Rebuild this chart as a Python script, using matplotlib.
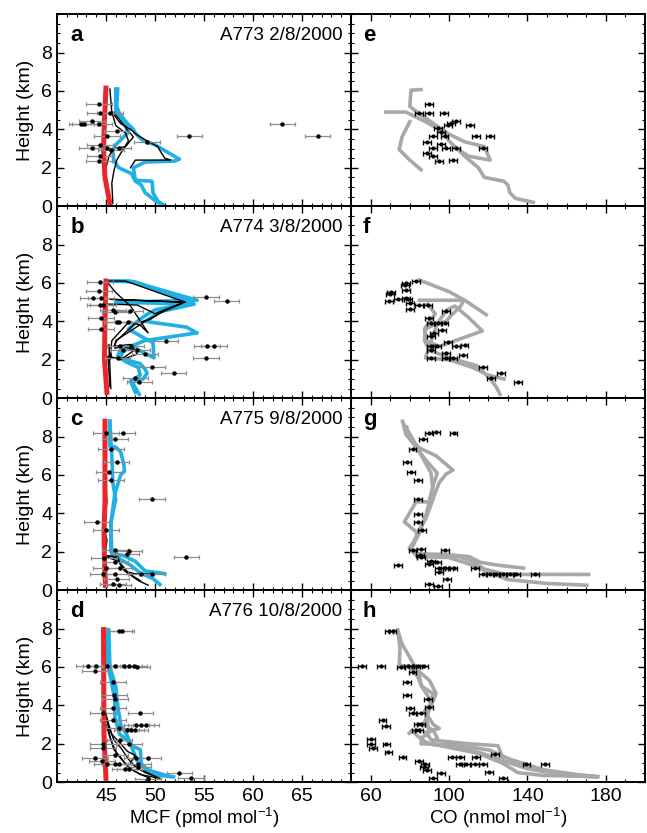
import matplotlib
matplotlib.use('Agg')
import matplotlib.pyplot as plt
from matplotlib.ticker import MultipleLocator, FixedLocator

plt.rcParams['font.family'] = ['Liberation Sans', 'DejaVu Sans']
plt.rcParams['mathtext.default'] = 'regular'

# ---- flight info ----
panel_mcf = ['a', 'b', 'c', 'd']
panel_co = ['e', 'f', 'g', 'h']
flights = ['A773 2/8/2000', 'A774 3/8/2000', 'A775 9/8/2000', 'A776 10/8/2000']

# ---- MCF (left column) ----
a_red_x = [45.0, 44.85, 44.75, 44.9, 45.4]
a_red_y = [6.15, 4.5, 3.0, 1.5, 0.15]
a_blue1_x = [46.2, 46.1, 46.4, 47.2, 47.8, 48.0, 48.8, 50.0, 51.3, 52.5, 52.0, 49.0, 47.8, 48.0, 49.7, 49.8, 50.3, 50.8]
a_blue1_y = [6.1, 5.2, 4.8, 4.3, 4.0, 3.8, 3.4, 3.2, 2.8, 2.45, 2.35, 2.3, 2.0, 1.35, 1.3, 0.7, 0.25, 0.1]
a_blue2_x = [46.0, 46.0, 47.0, 47.2, 46.0, 45.7, 45.8, 46.3, 47.6, 48.0, 48.6, 49.0, 50.0, 50.6]
a_blue2_y = [6.1, 5.0, 4.3, 3.8, 3.2, 2.9, 2.4, 2.0, 1.7, 1.3, 1.1, 0.7, 0.3, 0.1]
a_black1_x = [45.4, 45.6, 46.0, 47.0, 47.3, 46.8, 46.1, 45.8, 45.6, 45.7]
a_black1_y = [6.1, 4.9, 4.2, 3.8, 3.4, 3.0, 2.4, 1.8, 1.2, 0.15]
a_black2_x = [45.6, 46.5, 47.5, 48.2, 49.2, 50.3, 50.5, 51.0, 51.6, 48.0, 47.5]
a_black2_y = [4.9, 4.3, 4.0, 3.7, 3.4, 3.1, 2.9, 2.5, 2.4, 2.4, 2.0]
a_black3_x = [45.8, 47.0, 47.8, 47.0, 45.8, 45.3, 45.0]
a_black3_y = [4.9, 4.1, 3.6, 3.1, 3.0, 2.6, 2.0]
a_pts_x = [44.3, 44.4, 45.4, 43.6, 42.5, 42.8, 44.3, 46.1, 45.1, 53.5, 63.0, 66.6, 49.2, 44.4, 43.6, 45.1, 46.3, 44.4, 44.3, 45.5]
a_pts_y = [5.31, 4.83, 4.83, 4.43, 4.28, 4.28, 4.28, 3.9, 3.68, 3.68, 4.26, 3.68, 3.35, 3.21, 3.05, 3.05, 3.05, 2.62, 2.34, 2.9]

b_red_x = [45.0, 44.9, 44.85, 45.1]
b_red_y = [6.1, 4.0, 2.0, 0.3]
b_blue1_x = [45.2, 47.5, 54.3, 46.0, 54.0, 50.5, 49.0, 53.2, 54.3, 49.0, 48.0, 47.0, 46.6, 46.5, 47.0, 48.5, 49.0, 49.2, 48.8, 47.5, 48.0]
b_blue1_y = [6.1, 6.1, 5.1, 5.0, 4.9, 4.5, 4.0, 3.7, 3.4, 3.0, 2.8, 2.6, 2.3, 2.1, 2.0, 1.8, 1.5, 1.3, 1.0, 0.9, 0.3]
b_blue2_x = [45.5, 48.0, 53.8, 52.0, 50.0, 49.0, 48.2, 47.3, 49.0, 49.8, 49.9, 48.0, 46.5, 46.2, 47.0, 48.3, 48.5, 47.6, 48.4]
b_blue2_y = [6.1, 6.05, 5.0, 4.8, 4.6, 4.3, 4.0, 3.6, 3.1, 2.9, 2.1, 2.6, 2.5, 2.2, 1.9, 1.6, 1.2, 0.9, 0.2]
b_black1_x = [45.1, 47.0, 53.1, 45.4, 53.0, 51.0, 49.5, 48.0, 46.1, 45.8, 47.5, 48.2, 47.0, 45.6, 45.3, 45.5]
b_black1_y = [6.1, 6.1, 5.0, 5.15, 5.0, 4.6, 4.1, 3.9, 3.0, 2.7, 2.8, 2.3, 2.07, 2.1, 2.8, 0.5]
b_black2_x = [45.3, 48.2, 50.0, 52.8, 50.8, 49.0, 47.5, 46.0, 45.9, 46.8, 47.9, 46.5, 45.2, 45.4]
b_black2_y = [4.9, 4.85, 4.4, 4.95, 4.5, 4.0, 3.5, 3.0, 2.6, 2.7, 2.5, 2.0, 2.2, 0.6]
b_black3_x = [45.2, 46.0, 47.5, 49.3, 48.5, 47.4, 45.6, 45.4]
b_black3_y = [6.0, 5.5, 4.8, 3.4, 3.8, 4.0, 3.0, 2.0]
b_pts_x = [44.4, 44.3, 43.7, 44.5, 44.4, 44.7, 45.7, 45.9, 47.5, 44.5, 46.1, 46.3, 47.2, 44.5, 55.2, 57.3,
           51.1, 55.3, 56.0, 55.2, 46.4, 47.6, 46.7, 48.2, 46.2, 49.0, 49.7, 51.9, 48.0, 48.4]
b_pts_y = [6.04, 5.58, 5.2, 5.2, 4.85, 4.85, 4.6, 4.5, 4.55, 4.2, 3.98, 3.95, 3.95, 3.6, 5.25, 5.08,
           2.97, 2.7, 2.7, 2.09, 2.7, 2.7, 2.5, 2.5, 2.07, 2.3, 1.6, 1.33, 1.03, 0.85]

c_red_x = [44.9, 44.9, 44.8, 44.85, 44.95]
c_red_y = [8.8, 4.5, 3.0, 1.5, 0.25]
c_blue1_x = [45.4, 45.4, 46.0, 46.5, 46.8, 46.9, 46.5, 45.9, 45.8, 45.5, 45.5, 45.8, 46.5, 47.5, 48.5, 49.8, 50.5]
c_blue1_y = [8.8, 7.5, 7.45, 7.2, 6.6, 6.2, 6.0, 5.0, 4.6, 3.5, 2.0, 1.8, 1.6, 1.3, 0.9, 0.6, 0.3]
c_blue2_x = [45.4, 45.6, 45.7, 46.0, 45.9, 45.5, 45.6, 46.8, 48.0, 49.0, 50.5, 51.0]
c_blue2_y = [8.8, 7.0, 5.6, 4.7, 4.5, 3.5, 1.9, 1.8, 1.5, 1.0, 0.9, 0.85]
c_black1_x = [45.0, 44.95, 45.1, 44.8, 45.1, 44.9, 46.2, 46.5, 47.2, 48.3, 49.3]
c_black1_y = [8.8, 6.0, 4.6, 3.3, 2.6, 1.8, 1.75, 1.3, 0.9, 0.5, 0.26]
c_black2_x = [45.0, 46.0, 46.8, 47.2, 48.0, 49.8]
c_black2_y = [1.8, 1.7, 1.2, 0.95, 0.85, 0.85]
c_black3_x = [45.2, 46.3, 46.9, 48.5]
c_black3_y = [1.7, 1.5, 1.0, 0.5]
c_pts_x = [45.0, 46.7, 45.9, 45.5, 46.1, 45.3, 45.5, 49.7, 44.1, 45.0, 53.2, 45.9, 47.4, 47.1, 44.8, 45.9,
           45.0, 46.4, 44.7, 45.9, 48.6, 49.7, 46.1, 45.7, 46.3]
c_pts_y = [8.21, 8.21, 7.87, 7.34, 6.68, 6.16, 5.73, 4.77, 3.56, 3.12, 1.74, 2.08, 2.05, 1.86, 1.65, 1.48,
           1.13, 1.13, 0.83, 0.83, 0.83, 0.83, 0.57, 0.31, 0.26]

d_red_x = [44.75, 44.8, 45.0]
d_red_y = [7.95, 2.5, 0.2]
d_blue1_x = [45.2, 45.1, 45.6, 45.9, 45.9, 46.4, 46.9, 47.8, 48.5, 48.6, 49.2, 50.5, 51.9]
d_blue1_y = [7.95, 6.35, 5.1, 4.3, 3.4, 2.5, 2.3, 1.85, 1.7, 1.0, 0.55, 0.35, 0.28]
d_blue2_x = [45.3, 45.4, 46.0, 46.2, 46.5, 47.2, 47.8, 48.3, 49.5, 51.5]
d_blue2_y = [7.9, 6.0, 5.0, 4.0, 3.0, 2.4, 1.6, 1.0, 0.6, 0.3]
d_black1_x = [44.9, 44.9, 45.2, 45.4, 45.8, 46.5, 47.2, 48.5, 50.5]
d_black1_y = [7.95, 3.4, 3.05, 2.4, 1.7, 1.3, 0.8, 0.4, 0.2]
d_black2_x = [45.0, 45.3, 45.8, 46.5, 47.3, 48.0, 49.0, 50.3]
d_black2_y = [3.6, 2.9, 2.2, 1.8, 1.2, 0.8, 0.5, 0.25]
d_black3_x = [45.1, 45.6, 46.5, 47.2, 48.0, 47.5, 48.4, 49.2, 50.0]
d_black3_y = [3.3, 2.5, 2.0, 1.6, 1.4, 1.0, 0.7, 0.5, 0.3]
d_black4_x = [45.0, 45.5, 46.1, 46.9, 47.8, 48.8, 49.5]
d_black4_y = [3.0, 2.2, 1.5, 1.0, 0.6, 0.35, 0.2]
d_pts_x = [46.35, 46.6, 43.2, 44.0, 45.1, 45.9, 46.8, 47.4, 47.9, 48.2, 43.9, 45.7, 45.8, 45.9, 45.7, 44.7,
           48.5, 45.7, 48.1, 48.6, 49.1, 46.3, 47.1, 47.6, 48.0, 46.4, 44.7, 47.4, 44.7, 43.9, 44.6, 45.9,
           45.1, 46.3, 48.1, 49.3, 48.3, 48.3, 46.9, 47.4, 52.5, 53.7, 49.3, 45.9]
d_pts_y = [7.88, 7.88, 6.04, 6.04, 6.04, 6.04, 6.04, 6.04, 6.04, 6.0, 5.78, 5.23, 4.53, 4.31, 3.87, 3.61,
           3.61, 3.23, 3.0, 3.0, 3.0, 2.83, 2.71, 2.71, 2.71, 2.22, 1.98, 1.98, 1.79, 1.27, 1.11, 0.97,
           0.94, 0.97, 1.27, 1.27, 0.97, 0.8, 0.71, 0.68, 0.49, 0.23, 0.19, 1.41]

# ---- CO (right column) ----
e_grey1_x = [85.7, 80.6, 80.0, 83.0, 90.0, 95.0, 100.0, 108.0, 118.0, 121.0, 110.0, 104.0]
e_grey1_y = [6.07, 6.04, 5.2, 4.95, 4.45, 4.1, 3.75, 3.35, 3.1, 2.4, 2.6, 3.0]
e_grey2_x = [67.8, 78.0, 88.0, 94.0, 98.0, 100.0, 104.0, 108.0, 115.0, 118.0, 128.0, 130.0, 131.0, 134.0, 143.0]
e_grey2_y = [4.9, 4.9, 4.4, 4.05, 3.7, 3.4, 3.0, 2.6, 2.0, 1.5, 1.3, 1.1, 0.7, 0.4, 0.2]
e_grey3_x = [80.0, 76.0, 74.6, 80.0, 85.7]
e_grey3_y = [4.4, 3.6, 2.95, 2.4, 1.9]
e_pts_x = [89.6, 84.9, 90.0, 97.3, 103.7, 101.1, 99.4, 110.5, 94.3, 96.0, 97.7, 91.7, 113.6, 120.8, 88.6, 96.0,
           91.7, 98.5, 103.7, 117.4, 88.6, 91.7, 95.1, 101.9]
e_pts_y = [5.31, 4.86, 4.86, 4.86, 4.44, 4.34, 4.22, 4.25, 4.05, 3.88, 3.65, 3.65, 3.65, 3.65, 3.35, 3.23,
           3.04, 3.04, 3.04, 3.04, 2.79, 2.61, 2.37, 2.40]

f_grey1_x = [84.9, 100.0, 108.0, 119.0]
f_grey1_y = [6.15, 5.55, 5.1, 4.35]
f_grey2_x = [85.0, 107.5, 106.0, 101.0, 98.5, 92.0, 88.0, 87.5, 90.0, 100.0, 114.0, 118.0, 121.0, 124.0, 126.0]
f_grey2_y = [5.1, 5.1, 4.8, 4.3, 4.0, 3.8, 3.6, 3.0, 2.5, 2.1, 1.7, 1.3, 1.0, 0.6, 0.2]
f_grey3_x = [89.0, 93.0, 90.0, 87.5, 88.0, 95.0, 106.0, 117.0, 110.0, 103.0, 99.0, 94.0, 88.0, 100.0, 112.0, 120.0, 128.0]
f_grey3_y = [4.9, 4.4, 4.0, 3.6, 3.0, 2.7, 3.1, 3.5, 4.2, 4.8, 4.6, 3.9, 2.1, 2.0, 1.6, 1.2, 1.0]
f_pts_x = [78.0, 83.2, 77.7, 78.0, 70.3, 69.8, 69.5, 73.8, 78.0, 78.9, 80.1, 84.9, 89.1, 80.1, 98.5, 90.0,
           90.8, 94.3, 97.7, 96.5, 92.5, 90.8, 99.4, 90.8, 93.7, 103.7, 107.9, 90.8, 98.5, 107.1, 90.8, 98.5,
           101.9, 117.3, 126.7, 121.6, 135.3]
f_pts_y = [6.02, 6.09, 5.89, 5.63, 5.54, 5.40, 5.05, 5.16, 5.23, 5.16, 4.97, 4.84, 4.84, 4.67, 4.53, 4.18,
           3.92, 3.92, 3.92, 3.54, 3.42, 3.25, 2.94, 2.71, 2.71, 2.71, 2.76, 2.50, 2.36, 2.24, 2.08, 2.08,
           2.08, 1.62, 1.32, 1.03, 0.85]

g_grey1_x = [76.3, 78.0, 85.0, 93.4, 102.0, 98.5, 95.0, 92.5, 91.0, 88.0, 84.0, 82.0, 80.0, 83.2, 100.0, 110.5, 116.0, 125.0, 138.0]
g_grey1_y = [8.8, 8.1, 7.4, 7.0, 6.25, 6.05, 5.6, 4.95, 4.5, 3.7, 3.0, 2.5, 2.17, 1.9, 1.85, 1.74, 1.45, 1.3, 1.15]
g_grey2_x = [77.2, 81.4, 86.0, 90.8, 91.7, 90.5, 83.2, 77.2, 83.2, 83.8, 79.7, 83.5, 105.0, 112.0, 118.0, 128.0, 136.0, 150.0, 171.2]
g_grey2_y = [8.6, 7.9, 7.0, 6.1, 5.3, 4.6, 4.6, 3.56, 3.04, 2.8, 2.17, 1.8, 1.75, 1.5, 1.1, 0.85, 0.82, 0.82, 0.82]
g_grey3_x = [78.5, 79.0, 88.0, 94.0, 92.0, 90.5, 88.5, 85.0, 82.0, 80.5, 84.0, 100.0, 112.0, 120.0, 130.0, 150.0, 170.3]
g_grey3_y = [8.5, 8.0, 6.8, 6.1, 5.5, 4.9, 4.0, 3.0, 2.4, 2.15, 1.75, 1.7, 1.3, 0.95, 0.55, 0.35, 0.26]
g_pts_x = [89.6, 93.4, 102.3, 86.6, 81.4, 78.4, 80.6, 84.3, 84.3, 84.3, 84.3, 86.1, 81.4, 85.7, 98.0, 85.4,
           85.7, 90.8, 93.7, 90.0, 73.8, 95.1, 97.7, 100.2, 102.3, 113.1, 95.1, 117.3, 120.8, 124.2, 127.6,
           131.0, 134.4, 143.8, 99.0, 89.6, 94.3]
g_pts_y = [8.20, 8.25, 8.20, 7.87, 7.34, 6.68, 6.16, 5.73, 4.77, 3.99, 3.56, 3.14, 2.08, 2.14, 2.10, 1.82,
           1.74, 1.51, 1.48, 1.34, 1.30, 1.13, 1.13, 1.13, 1.13, 1.13, 0.96, 0.82, 0.82, 0.82, 0.82,
           0.82, 0.82, 0.82, 0.57, 0.33, 0.23]

h_grey1_x = [73.8, 76.0, 80.0, 83.2, 84.9, 90.0, 93.4, 91.0, 88.3, 90.0, 86.0, 85.7, 100.0, 112.0, 120.7, 131.0, 148.0, 165.0, 175.4]
h_grey1_y = [7.92, 7.2, 6.5, 5.9, 5.75, 5.3, 4.62, 4.0, 3.4, 2.6, 2.3, 2.0, 1.95, 1.8, 1.67, 1.2, 0.65, 0.4, 0.28]
h_grey2_x = [73.8, 75.0, 74.6, 80.0, 84.0, 86.0, 92.0, 90.0, 87.5, 92.0, 95.0, 88.0, 91.0, 110.0, 125.0, 128.0, 140.0, 160.0, 175.0]
h_grey2_y = [7.92, 7.0, 6.1, 6.0, 5.5, 5.0, 4.6, 4.0, 3.7, 3.0, 2.8, 2.6, 2.2, 2.0, 1.9, 1.1, 0.7, 0.35, 0.28]
h_grey3_x = [84.0, 86.0, 91.0, 89.0, 87.0, 92.0, 94.0, 91.0, 98.0, 115.0, 127.0, 132.0, 135.0, 148.0, 170.0, 175.0]
h_grey3_y = [5.9, 5.0, 4.2, 3.5, 3.0, 2.7, 2.3, 2.0, 1.85, 1.5, 1.0, 0.7, 0.5, 0.35, 0.3, 0.28]
h_grey4_x = [79.7, 81.0, 84.0, 88.0, 92.0, 102.0, 117.0, 128.0, 140.0, 160.0, 176.0]
h_grey4_y = [2.55, 2.7, 2.4, 2.1, 1.95, 1.9, 1.5, 1.1, 0.8, 0.4, 0.3]
h_pts_x = [69.5, 71.2, 55.5, 65.2, 75.5, 78.9, 81.4, 84.0, 87.4, 81.4, 78.4, 78.4, 89.1, 80.1, 90.0, 81.4,
           85.7, 66.1, 67.8, 84.0, 85.7, 83.2, 84.9, 60.1, 60.1, 61.3, 68.1, 69.1, 76.3, 123.3, 101.6, 105.4,
           113.6, 84.9, 87.9, 105.4, 108.8, 113.1, 117.3, 139.5, 149.0, 87.4, 88.6, 96.0, 120.4, 91.7, 127.6]
h_pts_y = [7.86, 7.86, 6.04, 6.04, 6.0, 6.04, 6.04, 6.04, 6.04, 5.75, 5.23, 4.53, 4.31, 3.87, 3.89, 3.61,
           3.61, 3.23, 2.92, 3.02, 3.02, 2.74, 2.71, 2.24, 1.98, 1.79, 1.98, 1.58, 1.32, 1.49, 1.29, 1.29,
           1.29, 1.09, 0.97, 0.97, 0.97, 0.97, 0.94, 0.97, 0.94, 0.8, 0.66, 0.49, 0.54, 0.23, 0.23]

mcf_err = 1.3
co_err = 2.0

RED = '#e8262b'
BLUE = '#1fb0e4'
GREY = '#a8a8a8'

mcf_data = [
    (a_red_x, a_red_y, [(a_blue1_x, a_blue1_y), (a_blue2_x, a_blue2_y)],
     [(a_black1_x, a_black1_y), (a_black2_x, a_black2_y), (a_black3_x, a_black3_y)], a_pts_x, a_pts_y),
    (b_red_x, b_red_y, [(b_blue1_x, b_blue1_y), (b_blue2_x, b_blue2_y)],
     [(b_black1_x, b_black1_y), (b_black2_x, b_black2_y), (b_black3_x, b_black3_y)], b_pts_x, b_pts_y),
    (c_red_x, c_red_y, [(c_blue1_x, c_blue1_y), (c_blue2_x, c_blue2_y)],
     [(c_black1_x, c_black1_y), (c_black2_x, c_black2_y), (c_black3_x, c_black3_y)], c_pts_x, c_pts_y),
    (d_red_x, d_red_y, [(d_blue1_x, d_blue1_y), (d_blue2_x, d_blue2_y)],
     [(d_black1_x, d_black1_y), (d_black2_x, d_black2_y), (d_black3_x, d_black3_y), (d_black4_x, d_black4_y)],
     d_pts_x, d_pts_y),
]
co_data = [
    ([(e_grey1_x, e_grey1_y), (e_grey2_x, e_grey2_y), (e_grey3_x, e_grey3_y)], e_pts_x, e_pts_y),
    ([(f_grey1_x, f_grey1_y), (f_grey2_x, f_grey2_y), (f_grey3_x, f_grey3_y)], f_pts_x, f_pts_y),
    ([(g_grey1_x, g_grey1_y), (g_grey2_x, g_grey2_y), (g_grey3_x, g_grey3_y)], g_pts_x, g_pts_y),
    ([(h_grey1_x, h_grey1_y), (h_grey2_x, h_grey2_y), (h_grey3_x, h_grey3_y), (h_grey4_x, h_grey4_y)],
     h_pts_x, h_pts_y),
]

fig = plt.figure(figsize=(6.47, 8.33), dpi=100)
gs = fig.add_gridspec(4, 2, left=0.088, right=0.997, bottom=0.061, top=0.983,
                      hspace=0, wspace=0)


def style_axes(ax):
    ax.set_ylim(0, 10)
    ax.yaxis.set_major_locator(FixedLocator([0, 2, 4, 6, 8]))
    ax.yaxis.set_minor_locator(MultipleLocator(0.5))
    ax.tick_params(which='both', direction='in', top=True, right=True, labelsize=14)
    ax.tick_params(which='major', length=5, width=1.0)
    ax.tick_params(which='minor', length=2.5, width=0.8)
    ax.tick_params(axis='x', pad=4)
    for s in ax.spines.values():
        s.set_linewidth(1.4)


for i in range(4):
    # MCF panel
    ax = fig.add_subplot(gs[i, 0])
    red_x, red_y, blues, blacks, px, py = mcf_data[i]
    for bx, by in blues:
        ax.plot(bx, by, color=BLUE, lw=2.6, solid_joinstyle='round', zorder=2)
    for kx, ky in blacks:
        ax.plot(kx, ky, color='black', lw=1.0, zorder=3)
    ax.plot(red_x, red_y, color=RED, lw=3.6, zorder=4)
    ax.errorbar(px, py, xerr=mcf_err, fmt='o', ms=2.2, color='black', ecolor='#8c8c8c',
                elinewidth=0.9, capsize=1.5, capthick=0.9, zorder=5)
    style_axes(ax)
    ax.set_xlim(40, 70)
    ax.xaxis.set_major_locator(FixedLocator([45, 50, 55, 60, 65]))
    ax.xaxis.set_minor_locator(MultipleLocator(1))
    ax.set_ylabel('Height (km)', fontsize=14, labelpad=5)
    ax.text(0.045, 0.89, panel_mcf[i], transform=ax.transAxes, fontsize=16,
            fontweight='bold', ha='left', va='center')
    ax.text(0.97, 0.89, flights[i], transform=ax.transAxes, fontsize=13.5,
            ha='right', va='center')
    if i < 3:
        ax.tick_params(labelbottom=False)
    else:
        ax.set_xlabel('MCF (pmol mol$^{-1}$)', fontsize=13.5, labelpad=1)

    # CO panel
    ax2 = fig.add_subplot(gs[i, 1])
    greys, qx, qy = co_data[i]
    for gx, gy in greys:
        ax2.plot(gx, gy, color=GREY, lw=2.6, solid_joinstyle='round', zorder=2)
    ax2.errorbar(qx, qy, xerr=co_err, fmt='o', ms=2.0, color='black', ecolor='black',
                 elinewidth=1.0, capsize=1.8, capthick=1.0, zorder=5)
    style_axes(ax2)
    ax2.set_xlim(50, 200)
    ax2.xaxis.set_major_locator(FixedLocator([60, 100, 140, 180]))
    ax2.xaxis.set_minor_locator(MultipleLocator(10))
    ax2.tick_params(labelleft=False)
    ax2.text(0.04, 0.89, panel_co[i], transform=ax2.transAxes, fontsize=16,
             fontweight='bold', ha='left', va='center')
    if i < 3:
        ax2.tick_params(labelbottom=False)
    else:
        ax2.set_xlabel('CO (nmol mol$^{-1}$)', fontsize=13.5, labelpad=1)

fig.savefig('out.png', dpi=100)
